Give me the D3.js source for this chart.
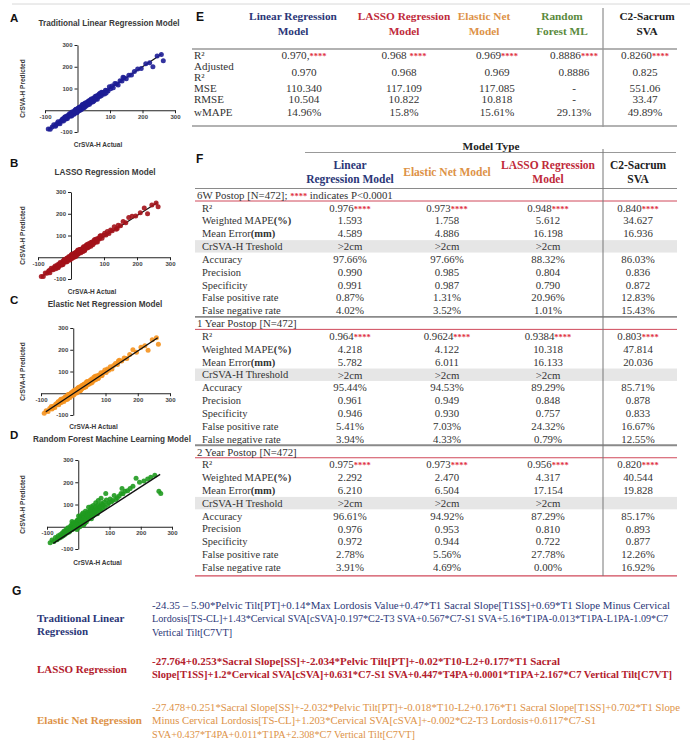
<!DOCTYPE html>
<html><head><meta charset="utf-8">
<script src="https://cdn.jsdelivr.net/npm/d3@7"></script>
<style>body{margin:0;background:#fff}svg{display:block}</style>
</head><body>
<svg id="fig" width="694" height="740"></svg>
<script>
// ---------- scatter data: CrSVA-H actual vs predicted (mm) ----------
const actual = [
  -90,-84,-78,-73,-68,-64,-60,-57,-54,-51,
  -48,-45,-43,-41,-39,-37,-35,-33,-31,-29,
  -27,-25,-24,-22,-21,-19,-18,-16,-15,-13,
  -12,-10,-9,-8,-6,-5,-4,-3,-1,0,
  1,2,3,4,5,6,7,8,9,10,
  11,12,13,14,15,16,17,18,19,20,
  21,22,24,25,26,27,28,30,31,32,
  34,35,37,38,40,42,43,45,47,49,
  51,53,55,57,59,61,63,66,68,71,
  74,77,80,83,86,90,94,98,102,106,
  110,115,120,125,131,137,143,150,158,166,
  175,185,196,232,258,264,
  -66,-46,-34,-26,-17,-11,-7,-2,3,6,
  9,12,14,17,19,23,26,29,33,36,
  39,44,48,52,56,60,64,69,73,78,
  -38,-20,-4,1,5,15,21,41,88,140,
  210,222,245
];
const predLinear = [
  -86,-87,-77,-67,-73,-62,-53,-59,-62,-48,
  -49,-40,-49,-39,-31,-41,-35,-27,-38,-26,
  -21,-27,-15,-27,-20,-15,-26,-9,-18,-13,
  -7,-16,-7,0,-10,5,-5,0,-8,6,
  -2,9,4,-2,14,4,11,0,11,15,
  6,15,21,13,8,22,18,14,29,18,
  28,16,26,34,23,19,33,30,26,40,
  32,41,28,42,41,52,37,48,43,56,
  44,55,64,54,64,51,67,74,63,72,
  83,73,83,75,92,91,88,108,99,111,
  104,123,122,116,136,134,150,145,161,162,
  178,190,192,200,256,228,
  -69,-40,-38,-24,-8,-18,-4,-11,9,2,
  10,4,19,19,13,31,25,33,26,45,
  36,50,39,55,51,67,62,78,67,82,
  -31,-23,4,-5,8,26,13,42,79,152,
  214,218,250
];
const predLasso = [
  -88,-89,-72,-74,-64,-71,-51,-56,-58,-46,
  -40,-48,-43,-35,-48,-33,-37,-24,-37,-28,
  -31,-18,-32,-19,-11,-21,-13,-22,-14,-5,
  -21,-8,-3,-11,3,-11,-3,-13,3,-2,
  7,-2,13,-3,7,14,2,11,0,11,
  20,6,16,12,22,8,22,18,15,30,
  14,26,32,20,27,36,25,21,37,31,
  39,27,39,48,36,35,50,43,56,43,
  54,62,49,56,67,57,69,57,70,81,
  69,84,70,87,84,99,87,101,110,102,
  118,109,125,122,140,129,147,145,164,159,
  183,188,190,200,250,232,
  -61,-53,-31,-35,-16,-3,-12,2,-5,15,
  6,18,4,24,21,17,35,25,38,28,
  46,42,58,45,60,51,70,64,81,75,
  -44,-11,-11,11,3,6,33,30,98,132,
  205,226,240
];
const predElastic = [
  -92,-80,-84,-70,-61,-68,-59,-65,-49,-52,
  -42,-53,-41,-44,-30,-43,-31,-34,-24,-38,
  -24,-30,-16,-22,-28,-13,-20,-6,-21,-11,
  -5,-19,-5,-11,-5,3,-10,2,-3,9,
  -3,8,-5,6,10,5,16,2,12,1,
  15,5,21,15,10,26,14,24,11,22,
  12,27,22,32,20,30,37,26,32,25,
  42,32,43,29,42,37,53,44,40,53,
  45,60,53,66,51,64,59,72,78,66,
  80,68,84,80,94,84,96,107,95,111,
  106,122,112,128,137,132,152,148,162,160,
  178,200,188,198,255,225,
  -72,-38,-36,-20,-26,-8,0,-7,13,3,
  13,5,23,13,25,14,29,37,28,37,
  31,53,44,58,47,62,73,62,76,70,
  -28,-28,1,-8,12,11,30,52,81,148,
  212,218,246
];
const predForest = [
  -72,-60,-66,-48,-58,-40,-50,-35,-46,-28,
  -40,-22,-35,-30,-12,-28,-18,-5,-25,-10,
  -20,2,-14,-6,10,-12,-2,8,-9,4,
  15,-4,6,22,-6,12,2,28,10,-2,
  20,8,32,14,0,26,18,40,12,24,
  36,10,28,44,20,32,52,16,38,26,
  48,30,60,38,22,52,42,66,34,46,
  58,40,72,50,64,36,56,80,48,62,
  74,56,90,68,80,58,98,72,86,76,
  105,82,96,110,88,120,100,108,125,112,
  118,140,122,130,138,150,148,160,162,172,
  182,218,200,222,160,150,
  -50,-20,-8,-16,18,-2,14,30,6,45,
  22,55,30,8,40,70,36,50,88,54,
  76,60,95,70,108,82,118,92,128,100,
  -24,24,-12,48,30,62,16,90,150,172,
  206,215,232
];
// fitted lines: [x1, y1, x2, y2]
const fitLinear  = [-88, -86, 258, 258];
const fitLasso   = [-88, -88, 262, 252];
const fitElastic = [-85, -85, 262, 255];
const fitForest  = [-80, -75, 262, 235];
const axisTicks = [-100, 0, 100, 200, 300];

// ---------- table E ----------
const eColumns = [["Linear Regression", "Model"], ["LASSO Regression", "Model"], ["Elastic Net", "Model"], ["Random", "Forest ML"], ["C2-Sacrum", "SVA"]];
const eMetrics = ["R²", "Adjusted R²", "MSE", "RMSE", "wMAPE"];
const eR2    = ["0.970,", "0.968 ", "0.969", "0.8886", "0.8260"];
const eAdjR2 = ["0.970", "0.968", "0.969", "0.8886", "0.825"];
const eMSE   = ["110.340", "117.109", "117.085", "-", "551.06"];
const eRMSE  = ["10.504", "10.822", "10.818", "-", "33.47"];
const eWMAPE = ["14.96%", "15.8%", "15.61%", "29.13%", "49.89%"];

// ---------- table F ----------
const fColumns = [["Linear", "Regression Model"], ["Elastic Net Model"], ["LASSO Regression", "Model"], ["C2-Sacrum", "SVA"]];
const fSections = ["6W Postop [N=472]; ", "1 Year Postop [N=472]", "2 Year Postop [N=472]"];
const fLabels6W = ["R²", "Weighted MAPE(%)", "Mean Error(mm)", "CrSVA-H Treshold", "Accuracy", "Precision", "Specificity", "False positive rate", "False negative rate"];
const fLabels1Y = ["R²", "Weighted MAPE(%)", "Mean Error(mm)", "CrSVA-H Threshold", "Accuracy", "Precision", "Specificity", "False positive rate", "False negative rate"];
const fLabels2Y = fLabels6W;
const f6Linear  = ["0.976", "1.593", "4.589", ">2cm", "97.66%", "0.990", "0.991", "0.87%", "4.02%"];
const f6Elastic = ["0.973", "1.758", "4.886", ">2cm", "97.66%", "0.985", "0.987", "1.31%", "3.52%"];
const f6Lasso   = ["0.948", "5.612", "16.198", ">2cm", "88.32%", "0.804", "0.790", "20.96%", "1.01%"];
const f6C2      = ["0.840", "34.627", "16.936", "", "86.03%", "0.836", "0.872", "12.83%", "15.43%"];
const f1Linear  = ["0.964", "4.218", "5.782", ">2cm", "95.44%", "0.961", "0.946", "5.41%", "3.94%"];
const f1Elastic = ["0.9624", "4.122", "6.011", ">2cm", "94.53%", "0.949", "0.930", "7.03%", "4.33%"];
const f1Lasso   = ["0.9384", "10.318", "16.133", ">2cm", "89.29%", "0.848", "0.757", "24.32%", "0.79%"];
const f1C2      = ["0.803", "47.814", "20.036", "", "85.71%", "0.878", "0.833", "16.67%", "12.55%"];
const f2Linear  = ["0.975", "2.292", "6.210", ">2cm", "96.61%", "0.976", "0.972", "2.78%", "3.91%"];
const f2Elastic = ["0.973", "2.470", "6.504", ">2cm", "94.92%", "0.953", "0.944", "5.56%", "4.69%"];
const f2Lasso   = ["0.956", "4.317", "17.154", ">2cm", "87.29%", "0.810", "0.722", "27.78%", "0.00%"];
const f2C2      = ["0.820", "40.544", "19.828", "", "85.17%", "0.893", "0.877", "12.26%", "16.92%"];

// ---------- equations G ----------
const gLabels = [["Traditional Linear", "Regression"], ["LASSO Regression"], ["Elastic Net Regression"]];
const eqLinear = [
  "-24.35 \u2013 5.90*Pelvic Tilt[PT]+0.14*Max Lordosis Value+0.47*T1 Sacral Slope[T1SS]+0.69*T1 Slope Minus Cervical",
  "Lordosis[TS-CL]+1.43*Cervical SVA[cSVA]-0.197*C2-T3 SVA+0.567*C7-S1 SVA+5.16*T1PA-0.013*T1PA-L1PA-1.09*C7",
  "Vertical Tilt[C7VT]"
];
const eqLasso = [
  "-27.764+0.253*Sacral Slope[SS]+-2.034*Pelvic Tilt[PT]+-0.02*T10-L2+0.177*T1 Sacral",
  "Slope[T1SS]+1.2*Cervical SVA[cSVA]+0.631*C7-S1 SVA+0.447*T4PA+0.0001*T1PA+2.167*C7 Vertical Tilt[C7VT]"
];
const eqElastic = [
  "-27.478+0.251*Sacral Slope[SS]+-2.032*Pelvic Tilt[PT]+-0.018*T10-L2+0.176*T1 Sacral Slope[T1SS]+0.702*T1 Slope",
  "Minus Cervical Lordosis[TS-CL]+1.203*Cervical SVA[cSVA]+-0.002*C2-T3 Lordosis+0.6117*C7-S1",
  "SVA+0.437*T4PA+0.011*T1PA+2.308*C7 Vertical Tilt[C7VT]"
];

// ---------- drawing ----------
const NAVY = "#2b3778", CRIMSON = "#c02a3a", TAN = "#dd9247", GREEN = "#5a8a3c", STAR = "#e0303e";
const SANS = "'Liberation Sans', Arial, sans-serif";
const SERIF = "'Liberation Serif', 'Times New Roman', serif";
const svg = d3.select("#fig");
svg.append("rect").attr("width", 694).attr("height", 740).attr("fill", "#fff");

function text(g, x, y, s, o = {}) {
  return g.append("text").attr("x", x).attr("y", y).attr("dy", "0.35em")
    .attr("text-anchor", o.anchor || "start")
    .attr("font-family", o.family || SERIF).attr("font-size", o.size || 10.5)
    .attr("font-weight", o.weight || "normal").attr("fill", o.fill || "#333").text(s);
}

// thin rule across the top
svg.append("line").attr("x1", 12).attr("x2", 690).attr("y1", 4).attr("y2", 4).attr("stroke", "#d8d8d8");

// scatter panels
const panels = [
  {letter: "A", title: "Traditional Linear Regression Model", pred: predLinear, fit: fitLinear, color: "#1d1d95",
   xr: [45, 175], yr: [132, 45], letterY: 18, titleX: 109, titleY: 23, xlabY: 145, lineOnTop: false},
  {letter: "B", title: "LASSO Regression Model", pred: predLasso, fit: fitLasso, color: "#a3121a",
   xr: [38, 170], yr: [279, 192], letterY: 163, titleX: 105, titleY: 172, xlabY: 292, lineOnTop: false},
  {letter: "C", title: "Elastic Net Regression Model", pred: predElastic, fit: fitElastic, color: "#f5921e",
   xr: [41, 170], yr: [415, 328], letterY: 300, titleX: 105, titleY: 304, xlabY: 427, lineOnTop: true},
  {letter: "D", title: "Random Forest Machine Learning Model", pred: predForest, fit: fitForest, color: "#1f9a1f",
   xr: [47, 172], yr: [549, 460], letterY: 435, titleX: 112, titleY: 439, xlabY: 563, lineOnTop: true}
];

panels.forEach(p => {
  const g = svg.append("g");
  const x = d3.scaleLinear().domain([-100, 300]).range(p.xr);
  const y = d3.scaleLinear().domain([-100, 300]).range(p.yr);
  text(g, 10, p.letterY, p.letter, {family: SANS, size: 11.5, weight: "bold", fill: "#111"});
  text(g, p.titleX, p.titleY, p.title, {family: SANS, size: 8.2, weight: "bold", fill: "#3a3a3a", anchor: "middle"});

  const fmt = d => d === 0 ? "" : d;
  const ax = g.append("g").attr("transform", `translate(0,${y(0)})`)
    .call(d3.axisBottom(x).tickValues(axisTicks).tickSize(3).tickSizeOuter(0).tickPadding(1).tickFormat(fmt));
  const ay = g.append("g").attr("transform", `translate(${x(0)},0)`)
    .call(d3.axisLeft(y).tickValues(axisTicks).tickSize(3).tickSizeOuter(0).tickPadding(2).tickFormat(fmt));
  [ax, ay].forEach(a => {
    a.selectAll("path,line").attr("stroke", "#222").attr("stroke-width", 1);
    a.selectAll("text").attr("font-family", SANS).attr("font-size", 6).attr("font-weight", "bold").attr("fill", "#444");
  });

  const fitLine = () => g.append("line")
    .attr("x1", x(p.fit[0])).attr("y1", y(p.fit[1])).attr("x2", x(p.fit[2])).attr("y2", y(p.fit[3]))
    .attr("stroke", "#111").attr("stroke-width", p.lineOnTop ? 1.4 : 1.2);
  if (!p.lineOnTop) fitLine();
  g.append("g").selectAll("circle").data(actual).join("circle")
    .attr("cx", d => x(d)).attr("cy", (d, i) => y(p.pred[i])).attr("r", 2.5)
    .attr("fill", p.color).attr("fill-opacity", 0.9);
  if (p.lineOnTop) fitLine();

  text(g, (p.xr[0] + p.xr[1]) / 2 - 12, p.xlabY, "CrSVA-H Actual", {family: SANS, size: 6.5, weight: "bold", fill: "#3a3a3a", anchor: "middle"});
  const ym = (p.yr[0] + p.yr[1]) / 2;
  text(g, 0, 0, "CrSVA-H Predicted", {family: SANS, size: 6.5, weight: "bold", fill: "#3a3a3a", anchor: "middle"})
    .attr("transform", `translate(23,${ym}) rotate(-90)`);
});

// ---------- table E ----------
const gE = svg.append("g");
text(gE, 196, 17, "E", {family: SANS, size: 12, weight: "bold", fill: "#111"});
const eHeadX = [293, 404, 484, 562, 647];
const eValX = [304, 404, 497, 574, 645];
const eColors = [NAVY, CRIMSON, TAN, GREEN, "#222"];
eColumns.forEach((c, i) => c.forEach((s, j) =>
  text(gE, eHeadX[i], 16 + j * 15.5, s, {size: 11.3, weight: "bold", fill: eColors[i], anchor: "middle"})));
gE.append("line").attr("x1", 603).attr("x2", 603).attr("y1", 8).attr("y2", 127).attr("stroke", "#777");
gE.append("line").attr("x1", 192).attr("x2", 677).attr("y1", 49).attr("y2", 49).attr("stroke", "#999").attr("stroke-width", 1.4);
gE.append("line").attr("x1", 192).attr("x2", 677).attr("y1", 126).attr("y2", 126).attr("stroke", "#999").attr("stroke-width", 1.4);

const eRowY = [55, 72, 88, 99.5, 112];
text(gE, 194, eRowY[0], eMetrics[0], {size: 11});
text(gE, 194, 66.5, "Adjusted", {size: 11});
text(gE, 194, 77.5, "R²", {size: 11});
[eMetrics[2], eMetrics[3], eMetrics[4]].forEach((m, k) => text(gE, 194, eRowY[k + 2], m, {size: 11}));
eR2.forEach((v, i) => {
  const t = text(gE, eValX[i], eRowY[0], v, {size: 11.2, anchor: "middle"});
  t.append("tspan").attr("fill", STAR).attr("font-weight", "bold").attr("font-size", 8.5).text("****");
});
[eAdjR2, eMSE, eRMSE, eWMAPE].forEach((arr, k) =>
  arr.forEach((v, i) => text(gE, eValX[i], eRowY[k + 1], v, {size: 11.2, anchor: "middle"})));

// ---------- table F ----------
const gF = svg.append("g");
text(gF, 196, 159, "F", {family: SANS, size: 12, weight: "bold", fill: "#111"});
text(gF, 491, 146, "Model Type", {size: 11.3, weight: "bold", fill: "#222", anchor: "middle"});
gF.append("line").attr("x1", 305).attr("x2", 676).attr("y1", 152.5).attr("y2", 152.5).attr("stroke", "#999").attr("stroke-width", 1.2);
const fX = [350, 447, 548, 638];
const fColors = [NAVY, TAN, CRIMSON, "#222"];
fColumns.forEach((c, i) => {
  const y0 = c.length === 1 ? 172 : 165;
  c.forEach((s, j) => text(gF, fX[i], y0 + j * 13.5, s, {size: 11.5, weight: "bold", fill: fColors[i], anchor: "middle"}));
});

const rowY = d3.scaleLinear().domain([0, 29]).range([195, 567.3]);
const fData = [
  {title: fSections[0], labels: fLabels6W, cols: [f6Linear, f6Elastic, f6Lasso, f6C2]},
  {title: fSections[1], labels: fLabels1Y, cols: [f1Linear, f1Elastic, f1Lasso, f1C2]},
  {title: fSections[2], labels: fLabels2Y, cols: [f2Linear, f2Elastic, f2Lasso, f2C2]}
];
const L = 195, R = 677;
fData.forEach((sec, s) => {
  const hy = rowY(s * 10);
  // shaded threshold row
  gF.append("rect").attr("x", L).attr("width", R - L).attr("y", rowY(s * 10 + 4) - 6.2).attr("height", 12.4).attr("fill", "#e6e6e6");
  gF.append("line").attr("x1", L).attr("x2", R).attr("y1", hy - 6.5).attr("y2", hy - 6.5)
    .attr("stroke", "#8a8a8a").attr("stroke-width", s === 0 ? 1.2 : 1.8);
  gF.append("line").attr("x1", L).attr("x2", R).attr("y1", hy + 6).attr("y2", hy + 6)
    .attr("stroke", "#d0495a").attr("stroke-width", 1);
  const t = text(gF, 197, hy, sec.title, {size: 10.8});
  if (s === 0) {
    t.append("tspan").attr("fill", STAR).attr("font-weight", "bold").attr("font-size", 8.5).text("****");
    t.append("tspan").text(" indicates P<0.0001");
  }
  sec.labels.forEach((lab, r) => {
    const yy = rowY(s * 10 + 1 + r);
    const k = lab.indexOf("(");
    const lt = text(gF, 202, yy, k > 0 ? lab.slice(0, k) : lab, {size: 10.5});
    if (k > 0) lt.append("tspan").attr("font-weight", "bold").text(lab.slice(k));
    sec.cols.forEach((col, c) => {
      const vt = text(gF, fX[c], yy, col[r], {size: 10.8, anchor: "middle"});
      if (r === 0) vt.append("tspan").attr("fill", STAR).attr("font-weight", "bold").attr("font-size", 8.5).text("****");
    });
  });
});
gF.append("line").attr("x1", L).attr("x2", R).attr("y1", 575.8).attr("y2", 575.8).attr("stroke", "#d0495a").attr("stroke-width", 1.2);
gF.append("line").attr("x1", 603).attr("x2", 603).attr("y1", 149).attr("y2", 576).attr("stroke", "#777");

// ---------- equations G ----------
const gG = svg.append("g");
text(gG, 12, 591, "G", {family: SANS, size: 12, weight: "bold", fill: "#111"});
// each equation line is fitted to its wrapped width
const eqBlocks = [
  {label: gLabels[0], lines: eqLinear, widths: [518, 516, 80], color: NAVY, bold: false, size: 10.4, y0: 605, labelY: 618},
  {label: gLabels[1], lines: eqLasso, widths: [408, 520], color: "#b3202c", bold: true, size: 10.5, y0: 661, labelY: 669},
  {label: gLabels[2], lines: eqElastic, widths: [528, 444, 263], color: TAN, bold: false, size: 10.7, y0: 707, labelY: 720}
];
eqBlocks.forEach(b => {
  b.label.forEach((s, j) => text(gG, 37, b.labelY + j * 13.5, s, {size: 11, weight: "bold", fill: b.color}));
  b.lines.forEach((s, j) => text(gG, 152, b.y0 + j * 13.5, s, {size: b.size, weight: b.bold ? "bold" : "normal", fill: b.color})
    .attr("textLength", b.widths[j]).attr("lengthAdjust", "spacingAndGlyphs"));
});
</script>
</body></html>
